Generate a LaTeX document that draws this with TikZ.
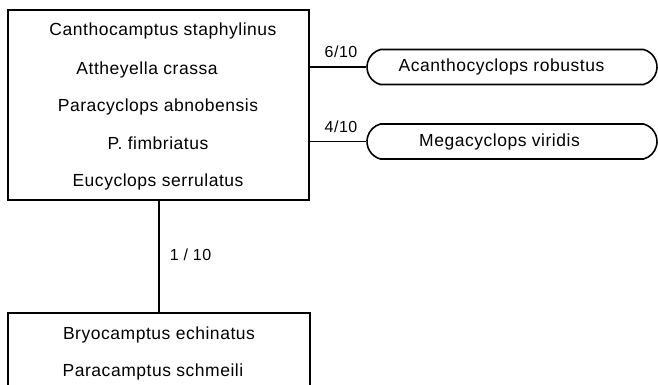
\documentclass[tikz,border=0pt]{standalone}
\usepackage{fontspec}
\setmainfont[LetterSpace=3]{Liberation Sans}
\usetikzlibrary{shapes.misc}
\begin{document}
\begin{tikzpicture}[x=1pt,y=-1pt,
  line width=1.6pt,
  box/.style={draw, rectangle, inner sep=0pt},
  pill/.style={draw, rounded rectangle, rounded rectangle arc length=150, inner sep=0pt, minimum width=290pt, minimum height=35pt},
  txt/.style={font=\fontsize{17.5}{20}\selectfont, inner sep=0pt},
  lab/.style={font=\fontsize{16}{18}\selectfont, inner sep=0pt}]
\useasboundingbox (0,0) rectangle (658,384);
\clip (0,0) rectangle (658,384);
% top box
\node[box, minimum width=301pt, minimum height=190pt] (top) at (158.5,105) {};
\node[txt] (t1) at (163,31) {Canthocamptus staphylinus};
\node[txt] (t2) at (147,70) {Attheyella crassa};
\node[txt] (t3) at (158,107) {Paracyclops abnobensis};
\node[txt] (t4) at (158,143) {P. fimbriatus};
\node[txt] (t5) at (158,182) {Eucyclops serrulatus};
% bottom box (cut by the lower edge)
\node[box, minimum width=302pt, minimum height=100pt] (bot) at (159,363) {};
\node[txt] (b1) at (159,335) {Bryocamptus echinatus};
\node[txt] (b2) at (153,372) {Paracamptus schmeili};
% right pills
\node[pill] (r1) at (512,67) {};
\node[pill] (r2) at (512,141.5) {};
\node[txt] (r1t) at (501.5,67) {Acanthocyclops robustus};
\node[txt] (r2t) at (499.5,142) {Megacyclops viridis};
% connectors
\draw (top.east |- r1.west) -- (r1.west);
\draw (top.east |- r2.west) -- (r2.west);
\draw (top.south -| bot.north) -- (bot.north);
% labels
\node[lab] (l1) at (341,52) {6/10};
\node[lab] (l2) at (341,127) {4/10};
\node[lab, anchor=west] (l3) at (169,255) {1 / 10};
\end{tikzpicture}
\end{document}
